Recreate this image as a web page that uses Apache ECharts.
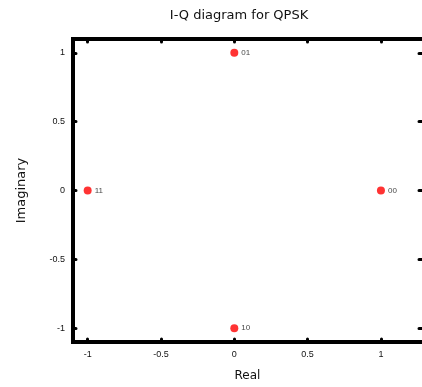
<!DOCTYPE html>
<html><head><meta charset="utf-8">
<script src="https://cdn.jsdelivr.net/npm/echarts@6/dist/echarts.min.js"></script>
<style>html,body{margin:0;padding:0;background:#fff}#c{width:422px;height:387px}</style>
</head><body><div id="c"></div>
<script>
const inPhase = [1, 0, -1, 0];
const quadrature = [0, 1, 0, -1];
const symbols = ['00', '01', '11', '10'];
const xTicks = [-1, -0.5, 0, 0.5, 1];
const yTicks = [-1, -0.5, 0, 0.5, 1];

const chart = echarts.init(document.getElementById('c'), null, {renderer: 'canvas'});
const tickStyle = {show: true, inside: true, length: 3, lineStyle: {color: '#000', width: 3, cap: 'round'}};
const lbl = {fontFamily: 'Liberation Sans, Arial', fontSize: 9, color: '#111'};
const thick = {show: true, onZero: false, lineStyle: {color: '#000', width: 4, cap: 'square'}};
const noLine = {show: false, onZero: false};
chart.setOption({
  animation: false,
  title: {text: 'I-Q diagram for QPSK', left: 234, top: 4, textAlign: 'center',
    textStyle: {fontFamily: 'DejaVu Sans', fontSize: 13, fontWeight: 'normal', color: '#111'}},
  grid: {left: 73, top: 39, width: 349, bottom: 39},
  xAxis: [
    {type: 'value', min: -1.1, max: 1.28, position: 'bottom',
     axisLine: thick, splitLine: {show: false},
     axisLabel: Object.assign({margin: 8, customValues: xTicks, formatter: v => String(v)}, lbl),
     axisTick: Object.assign({customValues: xTicks}, tickStyle),
     name: 'Real', nameLocation: 'middle', nameGap: 28,
     nameTextStyle: {fontFamily: 'DejaVu Sans', fontSize: 12, color: '#111'}},
    {type: 'value', min: -1.1, max: 1.28, position: 'top',
     axisLine: thick, splitLine: {show: false}, axisLabel: {show: false},
     axisTick: Object.assign({customValues: xTicks}, tickStyle)}
  ],
  yAxis: [
    {type: 'value', min: -1.1, max: 1.1, position: 'left',
     axisLine: thick, splitLine: {show: false},
     axisTick: Object.assign({customValues: yTicks}, tickStyle),
     axisLabel: Object.assign({margin: 8, customValues: yTicks, formatter: v => String(v)}, lbl),
     name: 'Imaginary', nameLocation: 'middle', nameGap: 45, nameRotate: 90,
     nameTextStyle: {fontFamily: 'DejaVu Sans', fontSize: 13, color: '#111'}},
    {type: 'value', min: -1.1, max: 1.1, position: 'right',
     axisLine: noLine, splitLine: {show: false}, axisLabel: {show: false},
     axisTick: Object.assign({customValues: yTicks}, tickStyle)}
  ],
  series: [{
    type: 'scatter', symbolSize: 8, itemStyle: {color: '#ff0000'},
    data: inPhase.map((x, i) => ({value: [x, quadrature[i]], name: symbols[i]})),
    label: {show: true, position: 'right', distance: 3, formatter: p => p.name,
      fontFamily: 'Liberation Sans, Arial', fontSize: 8, color: '#111'}
  }]
});
</script></body></html>
